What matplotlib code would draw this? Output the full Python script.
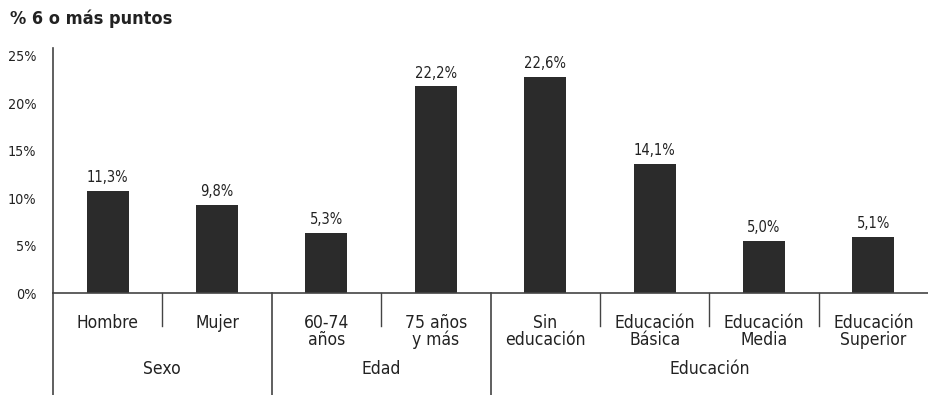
import matplotlib.pyplot as plt
from matplotlib.ticker import FuncFormatter

plt.rcParams["font.family"] = ["DejaVu Sans"]
plt.rcParams["font.stretch"] = "condensed"

# bar heights as drawn in the source figure, and the printed labels
categories = ["Hombre", "Mujer", "60-74\naños", "75 años\ny más",
              "Sin\neducación", "Educación\nBásica", "Educación\nMedia",
              "Educación\nSuperior"]
values = [10.8, 9.3, 6.35, 21.8, 22.8, 13.65, 5.5, 5.95]
value_labels = ["11,3%", "9,8%", "5,3%", "22,2%", "22,6%", "14,1%", "5,0%", "5,1%"]
groups = ["Sexo", "Edad", "Educación"]
group_sizes = [2, 2, 4]
yticks = [0, 5, 10, 15, 20, 25]

ink = "#222222"
bar_color = "#2b2b2b"

fig = plt.figure(figsize=(9.29, 3.95), dpi=100)
ax = fig.add_axes([0.057, 0.258, 0.942, 0.62])

x = list(range(len(categories)))
bars = ax.bar(x, values, width=0.385, color=bar_color)
for rect, lab in zip(bars, value_labels):
    ax.annotate(lab, (rect.get_x() + rect.get_width() / 2, rect.get_height()),
                xytext=(0, 4), textcoords="offset points",
                ha="center", va="bottom", fontsize=10.5, color=ink)

ax.set_xlim(-0.5, len(categories) - 0.5)
ax.set_ylim(0, 25.8)
ax.set_yticks(yticks)
ax.yaxis.set_major_formatter(FuncFormatter(lambda v, p: f"{v:.0f}%"))
ax.tick_params(axis="y", length=0, pad=12, labelsize=10.3, labelcolor=ink)
ax.set_xticks([])
for s in ["top", "right"]:
    ax.spines[s].set_visible(False)
ax.spines["left"].set_color("#444444")
ax.spines["bottom"].set_color("#444444")
ax.spines["left"].set_linewidth(1.2)
ax.spines["bottom"].set_linewidth(1.2)

# category labels and separators below the axis
trans = ax.get_xaxis_transform()
for xi, cat in zip(x, categories):
    ax.text(xi, -0.085, cat, transform=trans, ha="center", va="top",
            fontsize=12.5, color=ink, linespacing=0.9)

start = 0
bounds = [-0.5]
for g, n in zip(groups, group_sizes):
    ax.text(start + (n - 1) / 2, -0.31, g, transform=trans, ha="center",
            va="center", fontsize=12.5, color=ink)
    for k in range(1, n):
        ax.plot([start + k - 0.5] * 2, [0, -0.135], transform=trans,
                color="#444444", lw=1.0, clip_on=False)
    start += n
    bounds.append(start - 0.5)
for b in bounds[:-1]:
    ax.plot([b, b], [0, -0.42], transform=trans, color="#444444",
            lw=1.2, clip_on=False)

fig.text(0.011, 0.952, "% 6 o más puntos", fontsize=13, fontweight="bold",
         color=ink, va="center", ha="left")

fig.savefig("out.png", dpi=100)
